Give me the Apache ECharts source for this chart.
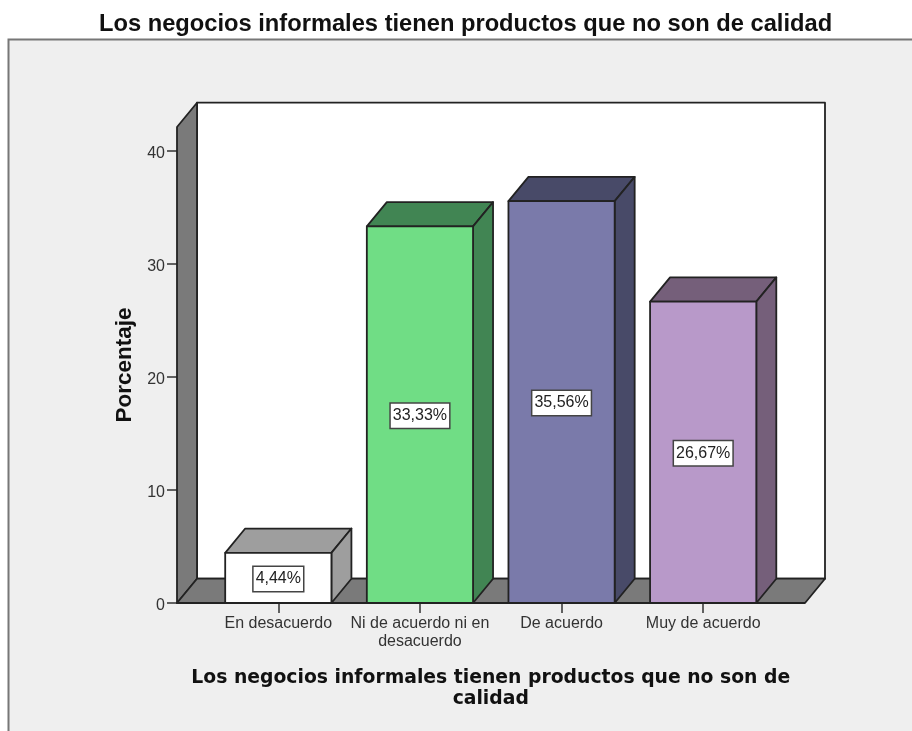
<!DOCTYPE html>
<html><head><meta charset="utf-8">
<style>html,body{margin:0;padding:0;background:#fff}#c{width:912px;height:731px}</style>
<script src="https://cdn.jsdelivr.net/npm/echarts@6/dist/echarts.min.js"></script>
</head><body><div id="c"></div>
<script>
const titleText = 'Los negocios informales tienen productos que no son de calidad';
const xAxisTitle = 'Los negocios informales tienen productos que no son de\ncalidad';
const yAxisTitle = 'Porcentaje';
const categories = ['En desacuerdo', 'Ni de acuerdo ni en\ndesacuerdo', 'De acuerdo', 'Muy de acuerdo'];
const percentages = [4.44, 33.33, 35.56, 26.67];
const yTicks = [0, 10, 20, 30, 40];
const frontColors = ['#ffffff', '#70dd85', '#7a7aaa', '#b899c9'];
const shadeColors = ['#9e9e9e', '#418553', '#484a68', '#755f7a'];

const DX = 20, DY = -24.3, LEFT_EXT = 30.5, RIGHT_EXT = 31;
const EDGE = '#222222', WALL = '#7a7a7a';
const stroke = {stroke: EDGE, lineWidth: 1.8, lineJoin: 'round'};
const poly = (pts, fill) => ({type: 'polygon', shape: {points: pts}, style: Object.assign({fill}, stroke)});

function renderWalls(params) {
  const c = params.coordSys;
  const x0 = c.x - LEFT_EXT, x1 = c.x + c.width + RIGHT_EXT, yT = c.y, yB = c.y + c.height;
  return {type: 'group', children: [
    poly([[x0 + DX, yT + DY], [x1 + DX, yT + DY], [x1 + DX, yB + DY], [x0 + DX, yB + DY]], '#ffffff'),
    poly([[x0, yT], [x0 + DX, yT + DY], [x0 + DX, yB + DY], [x0, yB]], WALL),
    poly([[x0, yB], [x0 + DX, yB + DY], [x1 + DX, yB + DY], [x1, yB]], WALL)
  ]};
}
function renderBar(params, api) {
  const i = api.value(0), v = api.value(1);
  const top = api.coord([i, v]), base = api.coord([i, 0]);
  const w = api.size([1, 0])[0] * 0.75;
  const l = top[0] - w / 2, r = top[0] + w / 2, t = top[1], b = base[1];
  return {type: 'group', children: [
    poly([[l, t], [l + DX, t + DY], [r + DX, t + DY], [r, t]], shadeColors[i]),
    poly([[r, t], [r + DX, t + DY], [r + DX, b + DY], [r, b]], shadeColors[i]),
    poly([[l, t], [r, t], [r, b], [l, b]], frontColors[i]),
    {type: 'text', z2: 10, x: top[0], y: (t + b) / 2 + 1, style: {
      text: v.toFixed(2).replace('.', ',') + '%', align: 'center', verticalAlign: 'middle',
      font: '16px "Liberation Sans"', fill: '#222',
      backgroundColor: '#fff', borderColor: '#444', borderWidth: 1.5, padding: [4, 2, 4, 2]
    }}
  ]};
}

const chart = echarts.init(document.getElementById('c'), null, {renderer: 'canvas'});
chart.setOption({
  animation: false,
  backgroundColor: '#ffffff',
  title: {text: titleText, left: 94, top: 7,
    textStyle: {fontFamily: 'Liberation Sans', fontWeight: 'bold', fontSize: 23.7, color: '#111'}},
  graphic: [{type: 'rect', z: -10, silent: true, shape: {x: 8.5, y: 39.5, width: 1000, height: 1000},
    style: {fill: '#efefef', stroke: '#777', lineWidth: 2}}],
  grid: {left: 207.5, width: 566.5, top: 127, height: 476},
  xAxis: {type: 'category', data: categories, boundaryGap: true,
    name: xAxisTitle, nameLocation: 'middle', nameGap: 65,
    nameTextStyle: {fontFamily: 'DejaVu Sans', fontWeight: 'bold', fontSize: 18.8, color: '#111', lineHeight: 21},
    axisLine: {show: false},
    axisTick: {show: true, alignWithLabel: true, length: 10, lineStyle: {color: '#333', width: 1.5}},
    axisLabel: {margin: 12, interval: 0, fontFamily: 'Liberation Sans', fontSize: 16, color: '#333', lineHeight: 18}},
  yAxis: {type: 'value', min: 0, max: 476 / 11.3, offset: 30.5,
    name: yAxisTitle, nameLocation: 'middle', nameGap: 41, nameRotate: 90,
    nameTextStyle: {fontFamily: 'Liberation Sans', fontWeight: 'bold', fontSize: 22.5, color: '#111'},
    splitLine: {show: false}, axisLine: {show: false},
    axisTick: {show: true, length: 10, customValues: yTicks, lineStyle: {color: '#333', width: 1.5}},
    axisLabel: {margin: 12, customValues: yTicks, verticalAlign: 'top', lineHeight: 6, fontFamily: 'Liberation Sans', fontSize: 16, color: '#333'}},
  series: [
    {type: 'custom', z: 1, clip: false, silent: true, renderItem: renderWalls, data: [[0, 0]], encode: {x: 0, y: 1}},
    {type: 'custom', z: 2, clip: false, silent: true, renderItem: renderBar,
     data: percentages.map((v, i) => [i, v]), encode: {x: 0, y: 1}}
  ]
});
</script></body></html>
